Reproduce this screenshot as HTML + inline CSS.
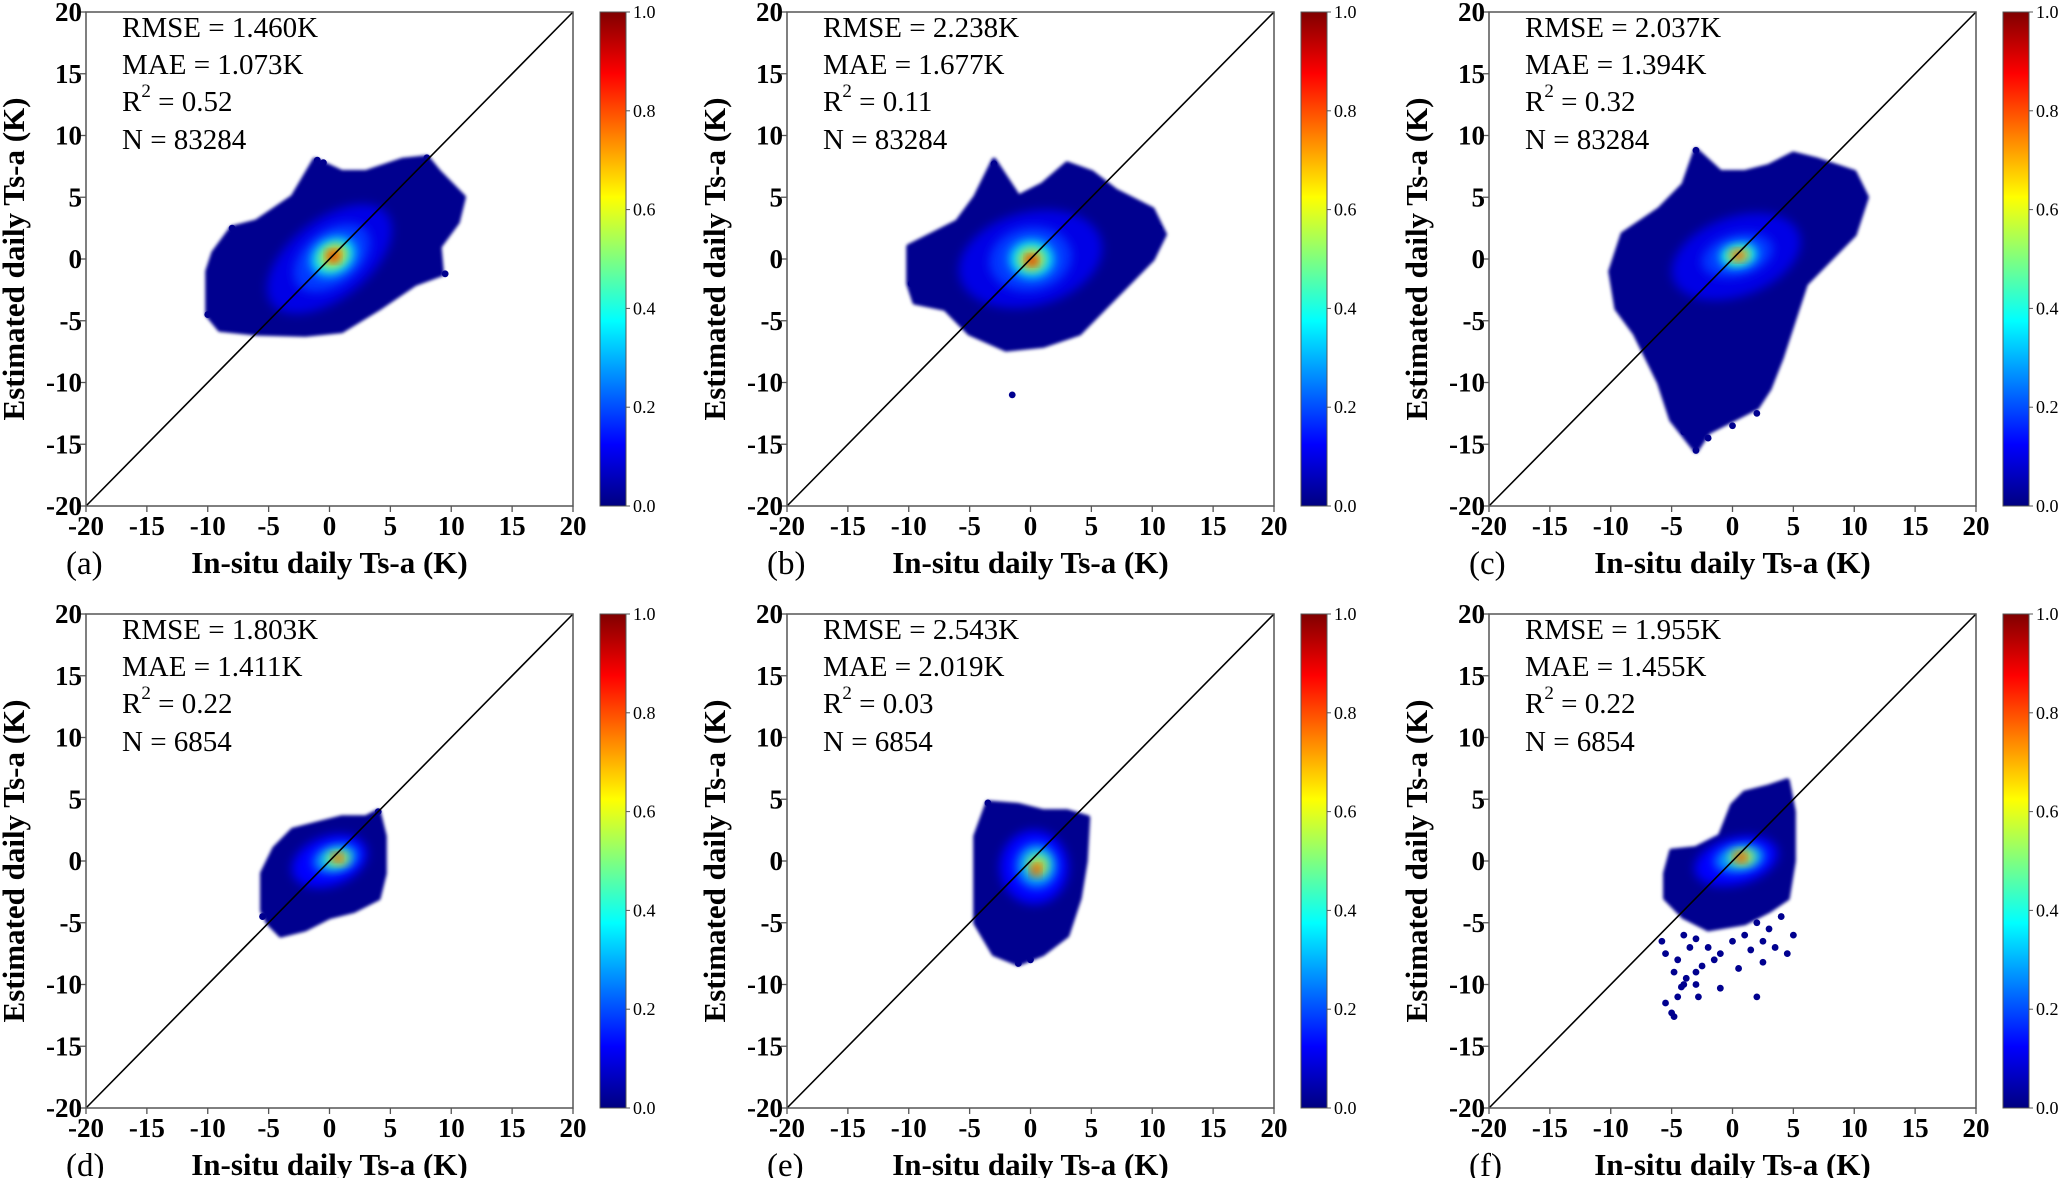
<!DOCTYPE html>
<html><head><meta charset="utf-8"><style>
html,body{margin:0;padding:0;background:#fff;}
svg, svg text{font-family:"Liberation Serif","Times New Roman",serif;}
</style></head><body>
<svg id="fig" width="2067" height="1178" viewBox="0 0 2067 1178" font-family="Liberation Serif, serif">
<defs>
<linearGradient id="jetgrad" x1="0" y1="1" x2="0" y2="0">
<stop offset="0" stop-color="#000080"/><stop offset="0.125" stop-color="#0000ff"/>
<stop offset="0.375" stop-color="#00ffff"/><stop offset="0.625" stop-color="#ffff00"/>
<stop offset="0.875" stop-color="#ff0000"/><stop offset="1" stop-color="#800000"/>
</linearGradient>
<filter id="soft" x="-50%" y="-50%" width="200%" height="200%"><feGaussianBlur stdDeviation="5"/></filter>
<filter id="soft2" x="-20%" y="-20%" width="140%" height="140%"><feGaussianBlur stdDeviation="1.5"/></filter>
</defs>
</svg>
<script>
const panelLabels = ["(a)","(b)","(c)","(d)","(e)","(f)"];
const rmse = ["1.460K","2.238K","2.037K","1.803K","2.543K","1.955K"];
const mae = ["1.073K","1.677K","1.394K","1.411K","2.019K","1.455K"];
const r2 = ["0.52","0.11","0.32","0.22","0.03","0.22"];
const nObs = ["83284","83284","83284","6854","6854","6854"];
const axisTicks = [-20,-15,-10,-5,0,5,10,15,20];
const cbarTicks = [0.0,0.2,0.4,0.6,0.8,1.0];
const hullA = [[-10,-4.5],[-10,-1],[-9.5,0.5],[-8,2.5],[-6,3],[-3,5],[-1.2,8],[1,7],[3,7],[6,8],[8,8.2],[9,7],[11,5],[10.5,3],[9,1],[9.2,-1.2],[7,-2],[4,-4],[1,-5.8],[-2,-6.1],[-6,-6],[-9,-5.7]];
const hullB = [[-10,-2],[-10,1],[-8,2],[-6,3],[-4.5,5],[-3,8],[-1,5],[1,6],[3,7.7],[5,7],[7,5.5],[10,4],[11,2],[10,0],[8,-2],[6,-4],[4,-6],[1,-7],[-2,-7.3],[-5,-6],[-7,-4],[-9.5,-3.5]];
const hullC = [[-10,-1],[-9,2],[-6,4],[-4,6],[-3,8.8],[-1,7],[1,7],[3,7.5],[5,8.5],[7,8],[10,7],[11,5],[10,2],[8,0],[6,-2],[5,-5],[4,-8],[3,-10.5],[2,-12],[0,-13],[-2,-14],[-3,-15.5],[-5,-13],[-6,-10],[-8,-6],[-9.5,-4]];
const hullD = [[-5.5,-4],[-5.5,-1],[-4.5,1],[-3,2.5],[-1,3],[1,3.5],[3,3.5],[4,4],[4.5,2],[4.5,-1],[4,-3],[2,-4],[0,-4.5],[-2,-5.5],[-4,-6],[-5,-5]];
const hullE = [[-4.5,-2],[-4.5,2],[-3.5,4.7],[-1,4.5],[1,4],[3,4],[4.7,3.5],[4.5,0],[4,-3],[3,-6],[1,-7.5],[-1,-8.3],[-3,-7.5],[-4.5,-5]];
const hullF = [[-5.5,-1],[-5,0.8],[-3,1],[-1,2],[0,4.5],[1,5.5],[3,6],[4.5,6.5],[5,4],[5,0],[4.5,-3],[3,-4],[1,-5],[-2,-5.5],[-4,-4.5],[-5.5,-3]];
const hulls = [hullA,hullB,hullC,hullD,hullE,hullF];
// density layers: [cx, cy, rx, ry, angleDeg, value]
const densA = [[0,0,6,3.2,38,0.1],[0.2,0.1,3.6,2.2,38,0.18],[0.3,0.2,2.0,1.5,30,0.32],[0.3,0.2,1.3,1.0,30,0.5],[0.4,0.3,0.8,0.6,30,0.72],[0.3,0.2,0.4,0.35,0,0.92]];
const densB = [[0,0,6,3.8,15,0.1],[0,0,3.4,2.6,10,0.18],[0.1,0,1.9,1.6,0,0.32],[0.1,0,1.2,1.0,0,0.5],[0.1,-0.1,0.7,0.6,0,0.75],[0.1,-0.1,0.35,0.3,0,0.95]];
const densC = [[0.3,0.2,5.5,3.2,20,0.1],[0.4,0.3,3.0,1.7,15,0.18],[0.5,0.3,1.6,1.0,10,0.34],[0.5,0.3,1.0,0.6,10,0.55],[0.5,0.3,0.55,0.35,0,0.85]];
const densD = [[0,0,3.2,2.0,20,0.13],[0.5,0.2,1.9,1.1,15,0.26],[0.6,0.2,1.1,0.7,10,0.46],[0.8,0.2,0.6,0.4,0,0.72],[0.6,0.3,0.3,0.25,0,0.92]];
const densE = [[0.3,-0.5,2.8,3.0,0,0.13],[0.5,-0.4,1.7,1.8,0,0.26],[0.6,-0.3,1.0,1.0,0,0.46],[0.6,-0.5,0.55,0.6,0,0.72],[0.4,-0.8,0.3,0.35,0,0.92]];
const densF = [[0.3,0,3.5,1.9,15,0.13],[0.6,0.2,2.1,1.1,10,0.26],[0.8,0.3,1.2,0.7,5,0.46],[0.8,0.3,0.7,0.45,0,0.72],[0.6,0.3,0.35,0.28,0,0.92]];
const dens = [densA,densB,densC,densD,densE,densF];
const outA = [[-8,2.5],[-1,8],[-0.5,7.8],[8,8.2],[10,5],[9.5,-1.2],[-10,-4.5]];
const outB = [[-1.5,-11],[-3,7.7],[-9.8,-2],[10.5,2.5]];
const outC = [[-3,8.8],[-3,-15.5],[-2,-14.5],[-4,-14],[0,-13.5],[2,-12.5]];
const outD = [[4,4],[-5.5,-4.5]];
const outE = [[-3.5,4.7],[-1,-8.3],[0,-8]];
const outF = [[-4,-6],[-3.5,-7],[-4.5,-8],[-3,-9],[-4,-10],[-4.5,-11],[-5,-12.3],[-5.5,-11.5],[-4.8,-12.6],[-2.5,-8.5],[-2,-7],[-1,-7.5],[0,-6.5],[1,-6],[2,-5],[2.5,-6.5],[3.5,-7],[4.5,-7.5],[5,-6],[-5.5,-7.5],[-1,-10.3],[2,-11],[0.5,-8.7],[-3,-6.3],[-4.8,-9],[-3.8,-9.5],[-3,-10],[-4.2,-10.2],[2.5,-8.2],[-5.8,-6.5],[-1.5,-8],[3,-5.5],[4,-4.5],[1.5,-7.2],[-2.8,-11]];
const outs = [outA,outB,outC,outD,outE,outF];

const NS = "http://www.w3.org/2000/svg";
const svg = document.getElementById("fig");
const FONT = '"Liberation Serif", serif';
function el(tag, attrs, parent){ const e=document.createElementNS(NS,tag); for(const k in attrs) e.setAttribute(k,attrs[k]); (parent||svg).appendChild(e); return e; }
function jet(v){
  const stops=[[0,[0,0,128]],[0.125,[0,0,255]],[0.375,[0,255,255]],[0.625,[255,255,0]],[0.875,[255,0,0]],[1,[128,0,0]]];
  for(let i=1;i<stops.length;i++){ if(v<=stops[i][0]){ const a=stops[i-1],b=stops[i]; const t=(v-a[0])/(b[0]-a[0]); const c=a[1].map((x,j)=>Math.round(x+(b[1][j]-x)*t)); return `rgb(${c[0]},${c[1]},${c[2]})`; } }
  return "rgb(128,0,0)";
}
const lefts=[86,787,1489], tops=[12,614], W=487, H=494;
for(let p=0;p<6;p++){
  const L=lefts[p%3], T=tops[Math.floor(p/3)];
  const sx=v=>L+(v+20)/40*W, sy=v=>T+H-(v+20)/40*H;
  const g=el("g",{"font-family":FONT});
  
  
  const cid="clip"+p;
  const cp=el("clipPath",{id:cid},g); el("rect",{x:L,y:T,width:W,height:H},cp);
  const plot=el("g",{"clip-path":`url(#${cid})`},g);
  const hull=el("polygon",{points:hulls[p].map(q=>sx(q[0])+","+sy(q[1])).join(" "),fill:"#00008f",stroke:"#00008f","stroke-width":5,"stroke-linejoin":"round",filter:"url(#soft2)"},plot);
  
  
  dens[p].forEach(d=>{
    const e=el("ellipse",{cx:sx(d[0]),cy:sy(d[1]),rx:d[2]/40*W,ry:d[3]/40*H,fill:jet(d[5]),transform:`rotate(${-d[4]} ${sx(d[0])} ${sy(d[1])})`,filter:"url(#soft)"},plot);
    
    
  });
  outs[p].forEach(o=>{
    const c=el("circle",{cx:sx(o[0]),cy:sy(o[1]),r:3.4,fill:"#00008f"},plot);
    
    
  });
  const dl=el("line",{x1:sx(-20),y1:sy(-20),x2:sx(20),y2:sy(20),stroke:"#000","stroke-width":1.6},g);
  
  
  const fr=el("rect",{x:L,y:T,width:W,height:H,fill:"none",stroke:"#555","stroke-width":1.5},g);
  
  
  axisTicks.forEach(t=>{
    el("line",{x1:sx(t),y1:T+H,x2:sx(t),y2:T+H+6,stroke:"#555","stroke-width":1.3},g);
    el("line",{x1:L-6,y1:sy(t),x2:L,y2:sy(t),stroke:"#555","stroke-width":1.3},g);
    const xt=el("text",{x:sx(t),y:T+H+29,"text-anchor":"middle","font-size":27,"font-weight":"bold","font-family":FONT},g); xt.textContent=t;
    
    
    const yt=el("text",{x:L-4,y:sy(t)+9,"text-anchor":"end","font-size":27,"font-weight":"bold","font-family":FONT},g); yt.textContent=t;
    
    
  });
  const xl=el("text",{x:L+W/2,y:T+H+67,"text-anchor":"middle","font-size":31,"font-weight":"bold","font-family":FONT},g); xl.textContent="In-situ daily Ts-a (K)";
  
  
  const yl=el("text",{x:0,y:0,"text-anchor":"middle","font-size":31,"font-weight":"bold","font-family":FONT,transform:`translate(${L-62} ${T+H/2}) rotate(-90)`},g); yl.textContent="Estimated daily Ts-a (K)";
  
  
  const pl=el("text",{x:L-20,y:T+H+68,"font-size":33,"font-family":FONT},g); pl.textContent=panelLabels[p];
  
  
  const st=el("g",{"font-size":29,"font-family":FONT},g);
  
  
  const X=L+36;
  el("text",{x:X,y:T+25},st).textContent="RMSE = "+rmse[p];
  el("text",{x:X,y:T+62},st).textContent="MAE = "+mae[p];
  const r=el("text",{x:X,y:T+99},st);
  const t1=el("tspan",{},r); t1.textContent="R";
  const t2=el("tspan",{dy:-14,"font-size":19},r); t2.textContent="2";
  const t3=el("tspan",{dy:14},r); t3.textContent=" = "+r2[p];
  el("text",{x:X,y:T+137},st).textContent="N = "+nObs[p];
  const CX=L+514, CW=26;
  const cb=el("rect",{x:CX,y:T,width:CW,height:H,fill:"url(#jetgrad)",stroke:"#555","stroke-width":1},g);
  
  
  cbarTicks.forEach(v=>{
    const y=T+H-v*H;
    el("line",{x1:CX+CW,y1:y,x2:CX+CW+4,y2:y,stroke:"#555","stroke-width":1},g);
    const ct=el("text",{x:CX+CW+7,y:y+6,"font-size":18,"font-family":FONT},g); ct.textContent=v.toFixed(1);
    
    
  });
}
</script>
</body></html>
